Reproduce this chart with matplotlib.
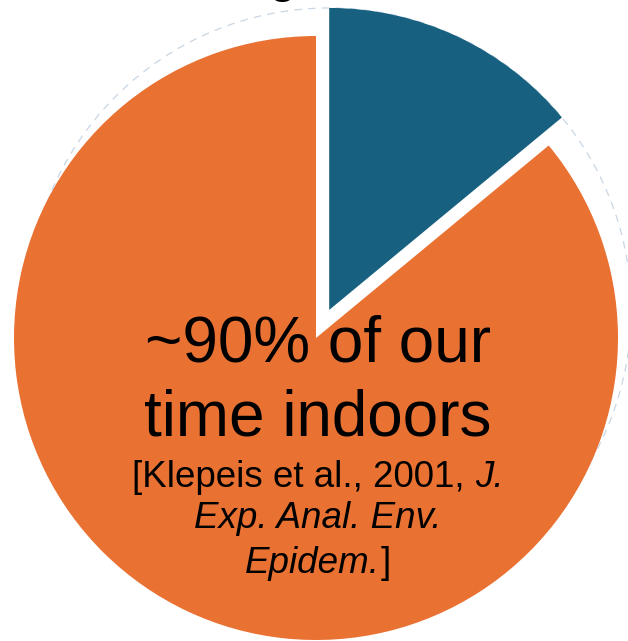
import matplotlib.pyplot as plt
from matplotlib.patches import Circle

plt.rcParams["font.family"] = ["Liberation Sans", "DejaVu Sans"]

labels = ["Outdoors / other", "Indoors"]
shares = [14, 86]
colors = ["#17607f", "#e97233"]
explode = [31, 0]

headline = ["~90% of our", "time indoors"]
# citation lines as (text, italic) pieces
cite_lines = [
    [("[Klepeis et al., 2001, ", False), ("J.", True)],
    [("Exp. Anal. Env.", True)],
    [("Epidem.", True), ("]", False)],
]


def centered_line(ax, renderer, cx, y, pieces, size):
    """
    Draws one line made of normal/italic pieces, centred on cx.
    """
    texts = []
    for s, italic in pieces:
        t = ax.text(0, y, s, ha="left", va="baseline", fontsize=size,
                    fontstyle="italic" if italic else "normal",
                    color="black")
        texts.append(t)
    widths = []
    inv = ax.transData.inverted()
    for t in texts:
        bb = t.get_window_extent(renderer)
        x0 = inv.transform((bb.x0, bb.y0))[0]
        x1 = inv.transform((bb.x1, bb.y0))[0]
        widths.append(x1 - x0)
    x = cx - sum(widths) / 2
    for t, w in zip(texts, widths):
        t.set_x(x)
        x += w


def draw_pie(ax, renderer):
    """
    Pie of time spent indoors vs. elsewhere, with the small slice pulled out.
    """
    cx, cy, r = 316, 303, 302
    wedges, _ = ax.pie(shares, colors=colors, explode=explode,
                       startangle=90, counterclock=False,
                       center=(cx, cy), radius=r, frame=True)

    # faint dashed outline of the pulled-out slice's circle
    bx, by = wedges[0].center
    ax.add_patch(Circle((bx, by), r, fill=False, ec="#c9d6e3", lw=0.9,
                        ls=(0, (6, 5)), zorder=0))

    for y, line in zip([280, 206], headline):
        ax.text(cx + 2, y, line, ha="center", va="baseline", fontsize=46,
                color="black")

    for y, pieces in zip([154, 113, 68], cite_lines):
        centered_line(ax, renderer, cx + 2, y, pieces, 26.5)

    # bottom of the heading letter above the chart
    ax.text(283, 649, "g", ha="center", va="baseline", fontsize=36,
            color="black", clip_on=False)


def main():
    fig = plt.figure(figsize=(6.28, 6.41), dpi=100)
    ax = fig.add_axes([0, 0, 1, 1])
    ax.set_xlim(0, 628)
    ax.set_ylim(0, 641)
    ax.set_aspect("equal")
    ax.axis("off")
    renderer = fig.canvas.get_renderer()
    draw_pie(ax, renderer)
    ax.set_xlim(0, 628)
    ax.set_ylim(0, 641)
    fig.savefig("out.png", dpi=100)


if __name__ == "__main__":
    main()
